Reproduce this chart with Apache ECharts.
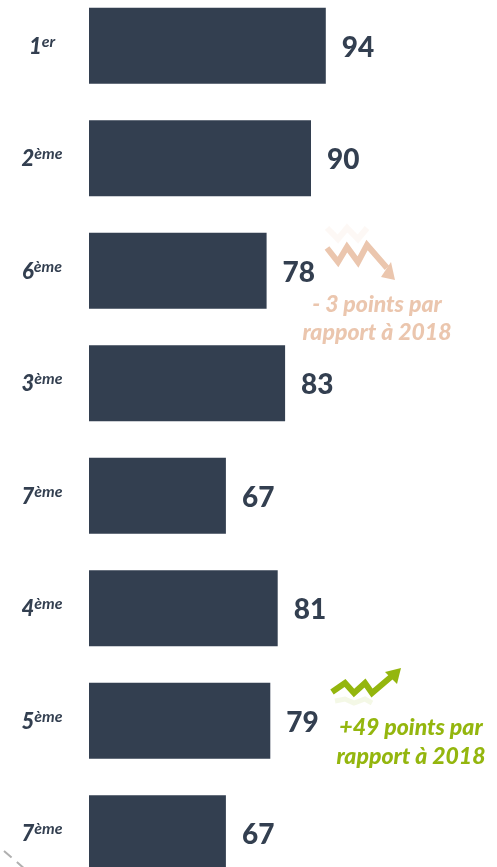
<!DOCTYPE html>
<html>
<head>
<meta charset="utf-8">
<style>
html,body{margin:0;padding:0;background:#fff;overflow:hidden}
#chart{width:497px;height:867px}
</style>
<script src="https://cdn.jsdelivr.net/npm/echarts@6/dist/echarts.min.js"></script>
</head>
<body>
<div id="chart"></div>
<script>
var rankNumbers = ['1', '2', '6', '3', '7', '4', '5', '7'];
var rankSuffixes = ['er', 'ème', 'ème', 'ème', 'ème', 'ème', 'ème', 'ème'];
var scores = [94, 90, 78, 83, 67, 81, 79, 67];
var downNote = ['- 3 points par', 'rapport à 2018'];
var upNote = ['+49 points par', 'rapport à 2018'];

var categories = rankNumbers.map(function (n, i) {
    return '{num|' + n + '}{sup|' + rankSuffixes[i] + '}';
});

var dark = '#333f50';
var peach = '#ebc6ae';
var green = '#94b60e';
var fontName = 'Lato';

function note(text, x, y, color) {
    return {
        type: 'text',
        x: x,
        y: y,
        style: {
            text: text,
            fill: color,
            font: 'italic 900 23px ' + fontName,
            align: 'center',
            verticalAlign: 'middle'
        }
    };
}

function arrowLine(points, color, opacity, width) {
    return {
        type: 'polyline',
        shape: {points: points},
        style: {stroke: color, lineWidth: width, fill: null, opacity: opacity}
    };
}

function arrowHead(points, color) {
    return {
        type: 'polygon',
        shape: {points: points},
        style: {fill: color}
    };
}

var myChart = echarts.init(document.getElementById('chart'));
var option = {
    animation: false,
    grid: {left: 89, top: -10.5, width: 370, height: 900, outerBoundsMode: 'none'},
    xAxis: {type: 'value', min: 30, max: 130, show: false},
    yAxis: {
        type: 'category',
        inverse: true,
        data: categories,
        axisLine: {show: false},
        axisTick: {show: false},
        axisLabel: {
            align: 'center',
            margin: 47,
            rich: {
                num: {
                    fontFamily: fontName, fontSize: 22, fontWeight: 900, fontStyle: 'italic',
                    color: dark, lineHeight: 24, verticalAlign: 'bottom'
                },
                sup: {
                    fontFamily: fontName, fontSize: 16, fontStyle: 'italic', fontWeight: 'bold',
                    color: dark, lineHeight: 24, verticalAlign: 'top', padding: [0, 0, 6, 0]
                }
            }
        }
    },
    series: [{
        type: 'bar',
        data: scores,
        barWidth: 76,
        itemStyle: {color: dark},
        label: {
            show: true,
            position: 'right',
            distance: 16,
            offset: [0, 2],
            color: dark,
            fontFamily: fontName,
            fontWeight: 900,
            fontSize: 28
        }
    }],
    graphic: [
        // fleche orange
        arrowLine([[327, 228], [338, 239], [347, 228], [358, 239], [367, 228]], peach, 0.12, 6),
        arrowLine([[327, 248], [338, 262], [347, 247], [358, 262], [367, 245], [387, 268]], peach, 1, 6),
        arrowHead([[395, 280], [381, 277], [391, 262]], peach),
        note(downNote[0], 377, 305, peach),
        note(downNote[1], 377, 333, peach),
        // fleche verte
        arrowLine([[332, 692], [345, 683], [354, 693], [365, 683], [372, 693], [392, 676]], green, 1, 6),
        arrowHead([[401, 668], [397, 684], [385, 672]], green),
        arrowLine([[335, 701], [345, 699], [354, 703], [365, 699], [372, 703]], green, 0.1, 5),
        note(upNote[0], 411, 728, green),
        note(upNote[1], 411, 757, green),
        // trait pointille en bas
        {
            type: 'line',
            shape: {x1: 4, y1: 851, x2: 26, y2: 870},
            style: {stroke: '#b0b0b0', lineWidth: 2, lineDash: [10, 7]}
        }
    ]
};
myChart.setOption(option);
</script>
</body>
</html>
